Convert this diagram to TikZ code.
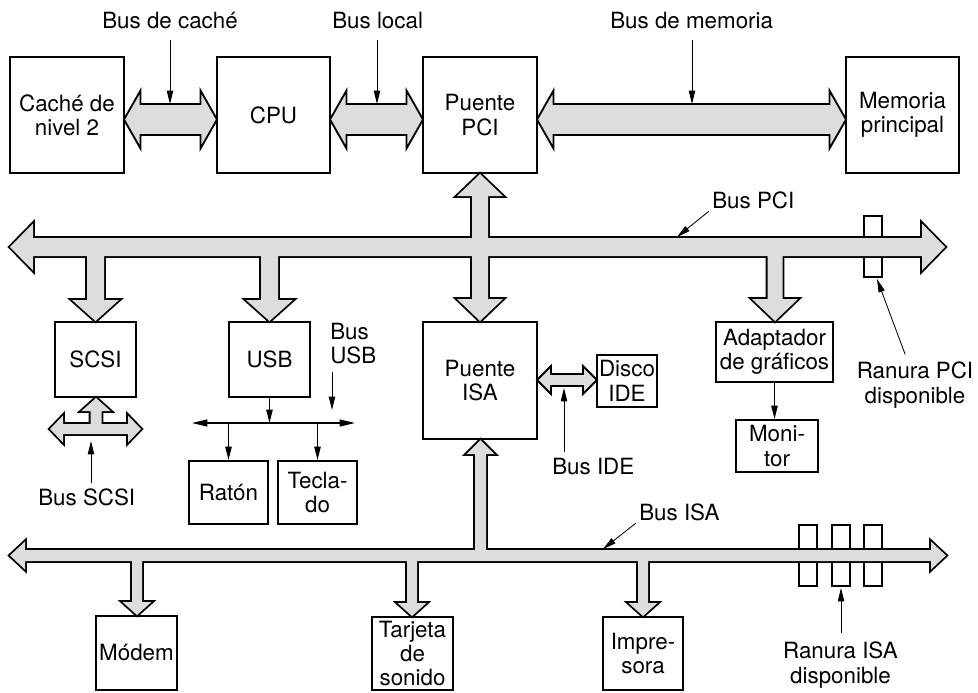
\documentclass[tikz,border=0pt]{standalone}
\usepackage{fontspec}
\setmainfont{TeX Gyre Heros}
\usetikzlibrary{arrows.meta}
\definecolor{busgray}{RGB}{220,221,223}
% fat bus arrows: #1,#2 ends, #3 axis, #4 shaft half width, #5 head half width, #6 head length
\newcommand{\bushd}[6]{(#1,#3) -- (#1+#6,#3-#5) -- (#1+#6,#3-#4) -- (#2-#6,#3-#4) -- (#2-#6,#3-#5) -- (#2,#3) -- (#2-#6,#3+#5) -- (#2-#6,#3+#4) -- (#1+#6,#3+#4) -- (#1+#6,#3+#5) -- cycle}
\newcommand{\busvd}[6]{(#1,#2) -- (#1+#5,#2+#6) -- (#1+#4,#2+#6) -- (#1+#4,#3-#6) -- (#1+#5,#3-#6) -- (#1,#3) -- (#1-#5,#3-#6) -- (#1-#4,#3-#6) -- (#1-#4,#2+#6) -- (#1-#5,#2+#6) -- cycle}
\newcommand{\busdown}[6]{(#1-#4,#2) -- (#1-#4,#3-#6) -- (#1-#5,#3-#6) -- (#1,#3) -- (#1+#5,#3-#6) -- (#1+#4,#3-#6) -- (#1+#4,#2) -- cycle}
\newcommand{\busup}[6]{(#1-#4,#2) -- (#1-#4,#3+#6) -- (#1-#5,#3+#6) -- (#1,#3) -- (#1+#5,#3+#6) -- (#1+#4,#3+#6) -- (#1+#4,#2) -- cycle}

\begin{document}
\begin{tikzpicture}[x=0.025cm, y=-0.025cm,
    every node/.style={align=center, font=\fontsize{15.9}{17.3}\selectfont},
    unit/.style={draw, line width=1.3pt, inner sep=0pt},
    lbl/.style={inner sep=0pt},
    pointer/.style={line width=0.6pt, -{Triangle[length=9.5pt, width=4.5pt]}},
    fat/.style={draw, line width=1.3pt, fill=busgray, line join=miter},
    slot/.style={draw, line width=1.3pt, fill=white}]
    \useasboundingbox (0,0) rectangle (978,692);

    % top row buses
    \path[fat] \bushd{124}{217}{119.5}{15.5}{29}{16.5};
    \path[fat] \bushd{330}{423}{119.5}{15.5}{29}{16.5};
    \path[fat] \bushd{537}{846}{119.5}{15.5}{29}{16.5};
    \path[fat] \bushd{537}{597}{380}{6}{14}{14};

    % slots
    \draw[slot] (864,216) rectangle ++(18,61);
    \foreach \sx in {799,832,864}
        \draw[slot] (\sx,525) rectangle ++(18,61);

    % PCI bus
    \draw[line width=2.6pt, line join=miter]
        \bushd{10}{945}{247}{9}{23.5}{23}
        \busdown{95.5}{247}{321}{8.5}{23.5}{21}
        \busdown{269.5}{247}{321}{8.5}{23.5}{21}
        \busvd{480}{174}{321}{8}{23}{22}
        \busdown{775}{247}{321}{7.5}{23}{22};
    \fill[busgray] \bushd{10}{945}{247}{9}{23.5}{23};
    \fill[busgray] \busdown{95.5}{247}{321}{8.5}{23.5}{21};
    \fill[busgray] \busdown{269.5}{247}{321}{8.5}{23.5}{21};
    \fill[busgray] \busvd{480}{174}{321}{8}{23}{22};
    \fill[busgray] \busdown{775}{247}{321}{7.5}{23}{22};

    % ISA bus
    \draw[line width=2.6pt, line join=miter]
        \bushd{10}{946}{555.5}{5.5}{14}{15}
        \busup{480.5}{555.5}{440}{5.5}{14}{14}
        \busdown{137}{555.5}{615}{5}{14.5}{13}
        \busdown{412}{555.5}{616}{5}{14.5}{13}
        \busdown{643}{555.5}{616}{5}{14.5}{13};
    \fill[busgray] \bushd{10}{946}{555.5}{5.5}{14}{15};
    \fill[busgray] \busup{480.5}{555.5}{440}{5.5}{14}{14};
    \fill[busgray] \busdown{137}{555.5}{615}{5}{14.5}{13};
    \fill[busgray] \busdown{412}{555.5}{616}{5}{14.5}{13};
    \fill[busgray] \busdown{643}{555.5}{616}{5}{14.5}{13};

    % SCSI bus
    \draw[line width=2.6pt, line join=miter]
        \bushd{50}{141}{429}{5}{13.5}{13}
        \busup{96}{429}{398}{5.5}{14.5}{13};
    \fill[busgray] \bushd{50}{141}{429}{5}{13.5}{13};
    \fill[busgray] \busup{96}{429}{398}{5.5}{14.5}{13};

    \node[unit, minimum width=2.85cm, minimum height=2.9cm] (cache) at (67,115) {Caché de\\nivel 2};
    \node[unit, minimum width=2.825cm, minimum height=2.9cm] (cpu) at (273.5,115) {CPU};
    \node[unit, minimum width=2.85cm, minimum height=2.9cm] (pcibridge) at (480,115) {Puente\\PCI};
    \node[unit, minimum width=2.825cm, minimum height=2.9cm] (memory) at (902.5,115) {Memoria\\principal};
    \node[unit, minimum width=2.025cm, minimum height=1.875cm] (scsi) at (95.5,359.5) {SCSI};
    \node[unit, minimum width=2.025cm, minimum height=1.875cm] (usb) at (269.5,359.5) {USB};
    \node[unit, minimum width=2.85cm, minimum height=2.925cm] (isabridge) at (480,380.5) {Puente\\ISA};
    \node[unit, minimum width=1.5cm, minimum height=1.3cm] (disk) at (627,381) {Disco\\IDE};
    \node[unit, minimum width=2.925cm, minimum height=1.5cm] (graphics) at (774.5,352) {Adaptador\\de gráficos};
    \node[unit, minimum width=2.05cm, minimum height=1.3cm] (monitor) at (777,446) {Moni-\\tor};
    \node[unit, minimum width=1.975cm, minimum height=1.575cm] (mouse) at (228.5,492.5) {Ratón};
    \node[unit, minimum width=1.975cm, minimum height=1.575cm] (keyboard) at (317.5,492.5) {Tecla-\\do};
    \node[unit, minimum width=2.025cm, minimum height=1.85cm] (modem) at (136.5,653) {Módem};
    \node[unit, minimum width=2.025cm, minimum height=1.825cm] (sound) at (412.5,653.5) {Tarjeta\\de\\sonido};
    \node[unit, minimum width=2cm, minimum height=1.825cm] (printer) at (643,653.5) {Impre-\\sora};

    \node[lbl, anchor=base west] (lcache) at (102,28) {Bus de caché};
    \node[lbl, anchor=base west] (llocal) at (332,28) {Bus local};
    \node[lbl, anchor=base west] (lmemory) at (610,28) {Bus de memoria};
    \node[lbl, anchor=base west] (lpci) at (712,208) {Bus PCI};
    \node[lbl, anchor=north west, align=left] (lusb) at (330,323) {Bus\\USB};
    \node[lbl, anchor=base west] (lscsi) at (38,505) {Bus SCSI};
    \node[lbl, anchor=base west] (lide) at (552,474) {Bus IDE};
    \node[lbl, anchor=base west] (lisa) at (639,520) {Bus ISA};
    \node[lbl, anchor=north] (lpcislot) at (915,362) {Ranura PCI\\disponible};
    \node[lbl, anchor=north] (lisaslot) at (840.5,642) {Ranura ISA\\disponible};

    \coordinate (cachetap) at (170,104);
    \coordinate (localtap) at (377,104);
    \coordinate (memorytap) at (692,104);
    \coordinate (pcitap) at (677,237);
    \coordinate (usbtap) at (332,410);
    \coordinate (scsitap) at (91,441);
    \coordinate (idetap) at (564,388);
    \coordinate (isatap) at (603,549);
    \coordinate (pcislottap) at (877,279);
    \coordinate (isaslottap) at (841,588);

    \draw[pointer, shorten <=0.275cm] (lcache.south -| cachetap) -- (cachetap);
    \draw[pointer, shorten <=0.275cm] (llocal.south -| localtap) -- (localtap);
    \draw[pointer, shorten <=0.275cm] (lmemory.south -| memorytap) -- (memorytap);
    \draw[pointer, shorten <=0.1cm] (lpci.south west) -- (pcitap);
    \draw[pointer, shorten <=0.175cm] (lusb.south west -| usbtap) -- (usbtap);
    \draw[pointer, shorten <=0.125cm] (lscsi.north -| scsitap) -- (scsitap);
    \draw[pointer, shorten <=0.125cm] (lide.north -| idetap) -- (idetap);
    \draw[pointer, shorten <=0.1cm] (lisa.south west) -- (isatap);
    \draw[pointer, shorten <=0.2cm] ([xshift=-0.175cm]lpcislot.north) -- (pcislottap);
    \draw[pointer, shorten <=0.225cm] (lisaslot.north -| isaslottap) -- (isaslottap);

    % USB
    \coordinate (usbleft) at (192,423);
    \coordinate (usbright) at (355,423);
    \draw[line width=0.9pt, {Triangle[length=11pt, width=5pt]}-{Triangle[length=11pt, width=5pt]}] (usbleft) -- (usbright);
    \draw[pointer, line width=0.9pt] (usb.south) -- (usb.south |- usbleft);
    \draw[pointer, line width=0.9pt] (mouse.north |- usbleft) -- (mouse.north);
    \draw[pointer, line width=0.9pt] (keyboard.north |- usbleft) -- (keyboard.north);
    \draw[pointer, line width=0.9pt] (graphics.south) -- (graphics.south |- monitor.north);
\end{tikzpicture}
\end{document}
